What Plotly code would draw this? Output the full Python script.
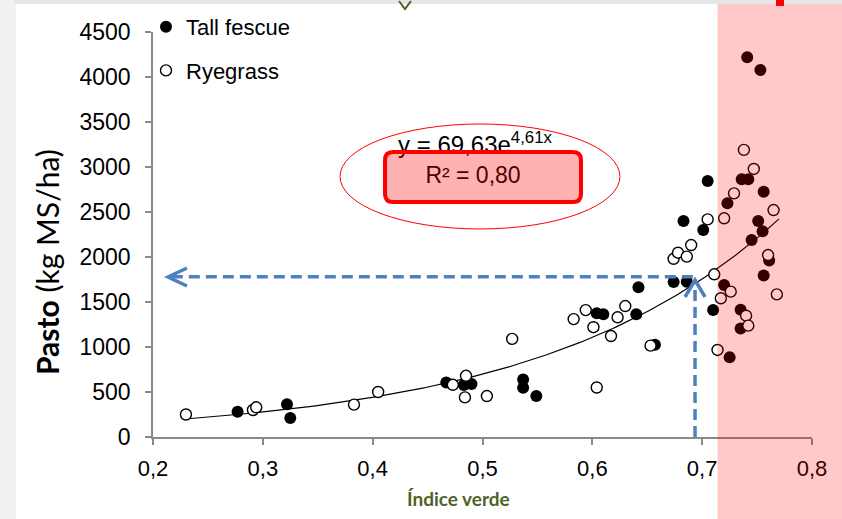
import numpy as np
import plotly.graph_objects as go

# ---------------- data ----------------
tall_x = [0.277, 0.322, 0.325, 0.467, 0.483, 0.490, 0.537, 0.537, 0.549,
          0.604, 0.610, 0.640, 0.642, 0.657, 0.674, 0.686, 0.683, 0.701,
          0.705, 0.710, 0.720, 0.723, 0.725, 0.735, 0.735, 0.736, 0.742,
          0.741, 0.753, 0.745, 0.751, 0.755, 0.756, 0.756, 0.761]
tall_y = [280, 365, 210, 605, 578, 590, 640, 548, 455,
          1375, 1363, 1363, 1665, 1025, 1722, 1726, 2400, 2300,
          2844, 1411, 1689, 2596, 885, 1415, 1205, 2863, 2863,
          4219, 4078, 2190, 2400, 2285, 2726, 1795, 1960]

rye_x = [0.230, 0.291, 0.294, 0.383, 0.405, 0.473, 0.485, 0.484, 0.504,
         0.527, 0.604, 0.583, 0.594, 0.601, 0.617, 0.623, 0.630, 0.653,
         0.674, 0.678, 0.686, 0.690, 0.705, 0.711, 0.714, 0.720, 0.729,
         0.738, 0.747, 0.717, 0.726, 0.740, 0.742, 0.760, 0.765, 0.768]
rye_y = [250, 300, 330, 360, 500, 580, 680, 440, 455,
         1090, 550, 1310, 1410, 1220, 1122, 1330, 1455, 1015,
         1980, 2048, 2004, 2133, 2418, 1808, 967, 2430, 2707,
         3190, 2978, 1541, 1615, 1348, 1237, 2022, 2522, 1585]

x_tickvals = [0.2, 0.3, 0.4, 0.5, 0.6, 0.7, 0.8]
x_ticktext = ["0,2", "0,3", "0,4", "0,5", "0,6", "0,7", "0,8"]
y_tickvals = [0, 500, 1000, 1500, 2000, 2500, 3000, 3500, 4000, 4500]

# exponential trend line given on the chart: y = 69,63 e^(4,61 x)
fit_a = 69.63
fit_b = 4.61
fit_x_start, fit_x_end = 0.232, 0.770

eq_text = "y = 69,63e<sup>4,61x</sup>"
r2_text = "R² = 0,80"

highlight_start = 0.714      # start of the pink zone (Índice verde)
guide_x = 0.6935             # vertical guide arrow
guide_y = 1780               # horizontal guide arrow

# ---------------- geometry helpers (pixel -> paper) ----------------
W, H = 842, 519
PL, PR, PT, PB = 153, 812, 32, 437


def px(xp):
    return (xp - PL) / (PR - PL)


def py(yp):
    return (PB - yp) / (PB - PT)


def to_dx(xp):
    return 0.2 + 0.6 * px(xp)


def to_dy(yp):
    return 4500 * py(yp)


FONT = "Liberation Sans, Arial, sans-serif"
AXIS_GREY = "#8a8a8a"
BLUE = "#4f81bd"

fig = go.Figure()

fx = np.linspace(fit_x_start, fit_x_end, 200)
fig.add_trace(go.Scatter(x=fx, y=fit_a * np.exp(fit_b * fx), mode="lines",
                         line=dict(color="black", width=1.2),
                         showlegend=False, hoverinfo="skip"))

fig.add_trace(go.Scatter(x=tall_x, y=tall_y, mode="markers", name="Tall fescue",
                         legendgroup="a",
                         marker=dict(symbol="circle", size=12, color="black",
                                     line=dict(width=0))))
fig.add_trace(go.Scatter(x=rye_x, y=rye_y, mode="markers", name="Ryegrass",
                         legendgroup="b",
                         marker=dict(symbol="circle", size=11, color="white",
                                     line=dict(width=1.4, color="black"))))

# equation texts (drawn as text traces so the tinted box sits on top)
fig.add_trace(go.Scatter(x=[to_dx(475)], y=[to_dy(147)], mode="text",
                         text=[eq_text], textposition="middle center",
                         textfont=dict(family=FONT, size=24, color="black"),
                         showlegend=False, hoverinfo="skip", cliponaxis=False))
fig.add_trace(go.Scatter(x=[to_dx(473)], y=[to_dy(177)], mode="text",
                         text=[r2_text], textposition="middle center",
                         textfont=dict(family=FONT, size=23, color="black"),
                         showlegend=False, hoverinfo="skip", cliponaxis=False))

shapes = []
# ellipse
shapes.append(dict(type="circle", xref="paper", yref="paper",
                   x0=px(340), x1=px(620), y0=py(229), y1=py(124),
                   line=dict(color="red", width=1), fillcolor="rgba(0,0,0,0)",
                   layer="above"))
# rounded R2 box
bx0, bx1, by0, by1 = px(385), px(581), py(202), py(152)
rx, ry = 8 / (PR - PL), 8 / (PB - PT)
path = (f"M {bx0+rx},{by1} L {bx1-rx},{by1} Q {bx1},{by1} {bx1},{by1-ry} "
        f"L {bx1},{by0+ry} Q {bx1},{by0} {bx1-rx},{by0} "
        f"L {bx0+rx},{by0} Q {bx0},{by0} {bx0},{by0+ry} "
        f"L {bx0},{by1-ry} Q {bx0},{by1} {bx0+rx},{by1} Z")
shapes.append(dict(type="path", xref="paper", yref="paper", path=path,
                   fillcolor="rgba(255,0,0,0.30)", line=dict(color="red", width=4),
                   layer="above"))

# blue dashed guides
shapes.append(dict(type="line", xref="x", yref="y",
                   x0=guide_x - 0.002, x1=to_dx(170), y0=guide_y, y1=guide_y,
                   line=dict(color=BLUE, width=3.5, dash="11px,6px"), layer="above"))
shapes.append(dict(type="line", xref="x", yref="y",
                   x0=guide_x, x1=guide_x, y0=0, y1=to_dy(283),
                   line=dict(color=BLUE, width=3.5, dash="11px,6px"), layer="above"))
tipx, tipy = px(168), py(277)
shapes.append(dict(type="path", xref="paper", yref="paper",
                   path=f"M {tipx+px(187)-px(168)},{tipy+9/405} L {tipx},{tipy} "
                        f"L {tipx+px(187)-px(168)},{tipy-9/405}",
                   line=dict(color=BLUE, width=3.5), layer="above"))
vx = (guide_x - 0.2) / 0.6
vy = py(280)
shapes.append(dict(type="path", xref="paper", yref="paper",
                   path=f"M {vx-10/659},{vy-17/405} L {vx},{vy} L {vx+10/659},{vy-17/405}",
                   line=dict(color=BLUE, width=3.5), layer="above"))

# pink highlight zone
shapes.append(dict(type="rect", xref="paper", yref="paper",
                   x0=(highlight_start - 0.2) / 0.6, x1=px(850), y0=py(530), y1=py(0),
                   fillcolor="rgba(255,0,0,0.21)", line=dict(width=0), layer="above"))
# slide frame remnants
shapes.append(dict(type="rect", xref="paper", yref="paper",
                   x0=px(-2), x1=px(16), y0=py(530), y1=py(-2),
                   fillcolor="#f1f1f1", line=dict(width=0), layer="above"))
shapes.append(dict(type="rect", xref="paper", yref="paper",
                   x0=px(14), x1=px(850), y0=py(4), y1=py(-2),
                   fillcolor="#e6e6e6", line=dict(width=0), layer="above"))
shapes.append(dict(type="rect", xref="paper", yref="paper",
                   x0=px(776), x1=px(784), y0=py(6), y1=py(-2),
                   fillcolor="red", line=dict(width=0), layer="above"))
shapes.append(dict(type="path", xref="paper", yref="paper",
                   path=f"M {px(399)},{py(1)} L {px(405)},{py(9)} L {px(411)},{py(1)}",
                   line=dict(color="#4f6228", width=2), layer="above"))

annotations = [
    dict(text="<b>Pasto</b> (kg MS/ha)", xref="paper", yref="paper",
         x=px(47), y=py(262), textangle=-90, showarrow=False,
         xanchor="center", yanchor="middle",
         font=dict(family="Lato, Carlito, sans-serif", size=30, color="black")),
    dict(text="<b>Índice verde</b>", xref="paper", yref="paper",
         x=px(458), y=py(498), showarrow=False, xanchor="center", yanchor="middle",
         font=dict(family="Lato, Carlito, sans-serif", size=19, color="#4f6228")),
]

fig.update_layout(
    width=W, height=H,
    margin=dict(l=PL, r=W - PR, t=PT, b=H - PB, autoexpand=False),
    paper_bgcolor="white", plot_bgcolor="white",
    font=dict(family=FONT, size=22, color="black"),
    showlegend=True,
    legend=dict(x=px(146), y=py(6), xanchor="left", yanchor="top",
                bgcolor="rgba(0,0,0,0)", borderwidth=0,
                font=dict(family=FONT, size=22, color="black"),
                traceorder="grouped", tracegroupgap=12),
    shapes=shapes, annotations=annotations,
    xaxis=dict(range=[0.2, 0.8], tickvals=x_tickvals, ticktext=x_ticktext,
               showline=True, linecolor=AXIS_GREY, linewidth=1.5,
               ticks="outside", ticklen=6, tickwidth=1.5, tickcolor=AXIS_GREY,
               showgrid=False, zeroline=False, automargin=False,
               ticklabelstandoff=5,
               tickfont=dict(family=FONT, size=22, color="black")),
    yaxis=dict(range=[0, 4500], tickvals=y_tickvals,
               showline=True, linecolor=AXIS_GREY, linewidth=1.5,
               ticks="outside", ticklen=6, tickwidth=1.5, tickcolor=AXIS_GREY,
               showgrid=False, zeroline=False, automargin=False,
               ticklabelstandoff=10,
               tickfont=dict(family=FONT, size=23, color="black")),
)

fig.write_html("out.html",
               config={"displayModeBar": False},
               post_script="document.body.style.margin='0px';"
                           "document.body.style.overflow='hidden';")
